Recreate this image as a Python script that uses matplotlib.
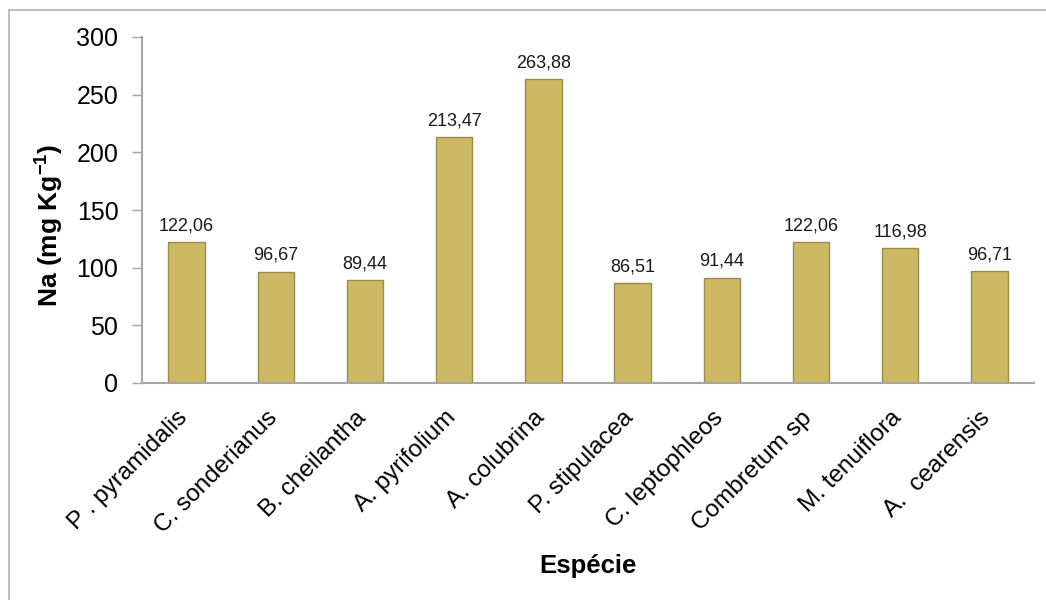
import matplotlib.pyplot as plt
import matplotlib.transforms as mtransforms
from matplotlib.lines import Line2D

especies = ["P . pyramidalis", "C. sonderianus", "B. cheilantha", "A. pyrifolium",
            "A. colubrina", "P. stipulacea", "C. leptophleos", "Combretum sp",
            "M. tenuiflora", "A.  cearensis"]
na_valores = [122.06, 96.67, 89.44, 213.47, 263.88, 86.51, 91.44, 122.06, 116.98, 96.71]
yticks = [0, 50, 100, 150, 200, 250, 300]

plt.rcParams["font.family"] = ["Liberation Sans", "DejaVu Sans"]

COR_BARRA = "#CDB964"
COR_BORDA = "#9C8C4C"
CINZA = "#A6A6A6"

fig = plt.figure(figsize=(10.46, 6.0), dpi=100)
ax = fig.add_axes([142 / 1046, 1 - 383 / 600, (1034 - 142) / 1046, (383 - 37) / 600])

x = range(len(especies))
ax.bar(x, na_valores, width=0.41, color=COR_BARRA, edgecolor=COR_BORDA, linewidth=1, zorder=2)

for xi, v in zip(x, na_valores):
    ax.annotate(f"{v:.2f}".replace(".", ","), (xi, v), xytext=(0, 5.5),
                textcoords="offset points", ha="center", va="bottom",
                fontsize=13, color="#1a1a1a")

ax.set_xlim(-0.5, len(especies) - 0.5)
ax.set_ylim(0, 300)
ax.set_yticks(yticks)
ax.set_yticklabels([str(t) for t in yticks], fontsize=18)
ax.set_xticks(list(x))
ax.set_xticklabels(especies, rotation=45, ha="right", rotation_mode="anchor", fontsize=17.5)
ax.tick_params(axis="x", length=0, pad=17)
ax.tick_params(axis="y", length=7, width=1, color=CINZA, pad=10)

# desloca os rotulos um pouco pra esquerda
desloc = mtransforms.ScaledTranslation(-10 / 100, 0, fig.dpi_scale_trans)
for lbl in ax.get_xticklabels():
    lbl.set_transform(lbl.get_transform() + desloc)

ax.spines[["top", "right"]].set_visible(False)
for s in ["left", "bottom"]:
    ax.spines[s].set_color(CINZA)
    ax.spines[s].set_linewidth(1.5)

ax.set_ylabel("Na (mg Kg$^{\\mathregular{-1}}$)", fontsize=19, fontweight="bold")
ax.yaxis.set_label_coords(-0.086, 0.455)
ax.set_xlabel("Espécie", fontsize=18.5, fontweight="bold")
ax.xaxis.set_label_coords(0.5, -0.495)

# moldura da pagina
fig.add_artist(Line2D([9 / 1046, 9 / 1046], [0, 1 - 10 / 600], color="#B0B0B0", lw=1.2))
fig.add_artist(Line2D([9 / 1046, 1], [1 - 10 / 600, 1 - 10 / 600], color="#B0B0B0", lw=1.2))
fig.text(250 / 1046, 1 + 9 / 600, "y p ,", family="Liberation Serif", fontsize=16, va="baseline")

plt.savefig("out.png", dpi=100)
